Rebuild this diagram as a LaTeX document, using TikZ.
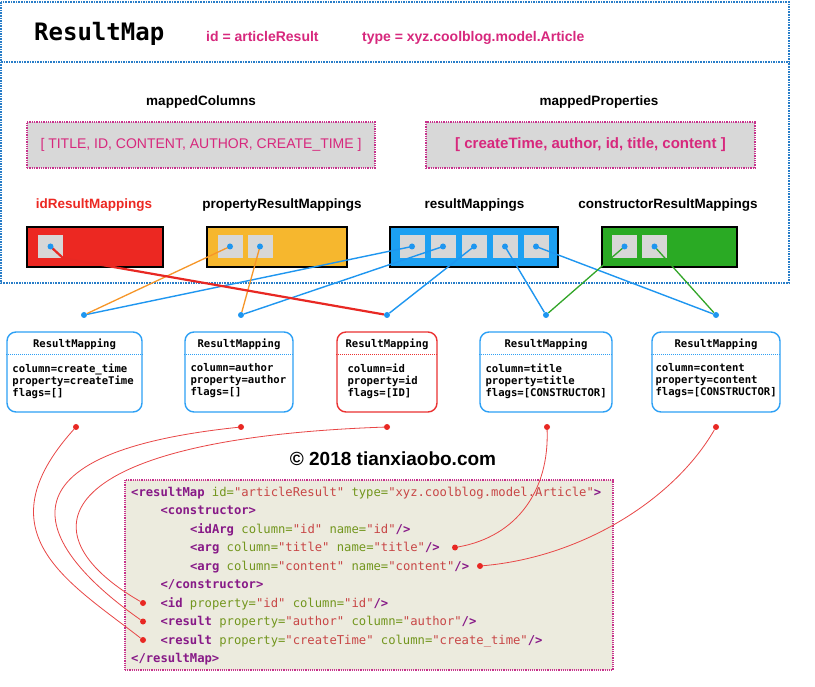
\documentclass[tikz,border=0pt]{standalone}
\usepackage{fontspec}
\setmainfont{Liberation Sans}
\setmonofont{DejaVu Sans Mono}

\definecolor{framebl}{RGB}{40,125,200}
\definecolor{pinktext}{RGB}{215,40,125}
\definecolor{boxgray}{RGB}{216,216,216}
\definecolor{cellgray}{RGB}{215,215,215}
\definecolor{idred}{RGB}{236,40,34}
\definecolor{propyellow}{RGB}{246,183,46}
\definecolor{resblue}{RGB}{28,160,242}
\definecolor{ctorgreen}{RGB}{42,170,36}
\definecolor{dotblue}{RGB}{30,150,240}
\definecolor{linkorange}{RGB}{246,150,40}
\definecolor{linkgreen}{RGB}{50,165,40}
\definecolor{linkred}{RGB}{232,40,35}
\definecolor{rmblue}{RGB}{45,160,245}
\definecolor{rmred}{RGB}{235,50,50}
\definecolor{curvered}{RGB}{232,70,70}
\definecolor{codebg}{RGB}{236,235,222}
\definecolor{codeframe}{RGB}{200,50,140}
\definecolor{xmltag}{RGB}{135,25,135}
\definecolor{xmlattr}{RGB}{115,150,30}
\definecolor{xmlval}{RGB}{200,70,70}

\newcommand{\xtag}[1]{\textcolor{xmltag}{\bfseries #1}}
\newcommand{\xatt}[1]{\textcolor{xmlattr}{#1}}
\newcommand{\xval}[1]{\textcolor{xmlval}{#1}}

\tikzset{
  mapframe/.style={draw=framebl, line width=1.6pt, densely dotted},
  attrtext/.style={text=pinktext, font=\bfseries\fontsize{14}{16}\selectfont, inner sep=0},
  fieldname/.style={font=\bfseries\fontsize{13.5}{16}\selectfont, anchor=base, inner sep=0},
  listbox/.style={draw=codeframe, line width=1.3pt, densely dotted, fill=boxgray, text=pinktext, minimum height=46, inner sep=0},
  mapbox/.style={draw=black, line width=2.4pt, minimum height=40, inner sep=0},
  cell/.style={fill=cellgray, minimum width=25, minimum height=23, inner sep=0},
  bdot/.style={circle, fill=dotblue, inner sep=0, minimum size=6},
  rdot/.style={circle, fill=linkred, inner sep=0, minimum size=6},
  bluelink/.style={draw=dotblue, line width=1.4pt},
  orangelink/.style={draw=linkorange, line width=1.3pt},
  greenlink/.style={draw=linkgreen, line width=1.3pt},
  redlink/.style={draw=linkred, line width=2.2pt},
  rmbox/.style={draw=rmblue, line width=1.4pt, rounded corners=9pt, fill=white, minimum height=80, inner sep=0},
  rmtitle/.style={font=\ttfamily\bfseries\fontsize{10.6}{12}\selectfont, anchor=base, inner sep=0},
  rmtext/.style={font=\ttfamily\bfseries\fontsize{10.6}{12}\selectfont, align=left, anchor=north west, inner sep=0},
  rmsep/.style={draw=rmblue, densely dotted, line width=1pt},
  codebox/.style={draw=codeframe, line width=1.2pt, densely dotted, fill=codebg, minimum width=488, minimum height=190, inner sep=0},
  codeline/.style={font=\ttfamily\fontsize{12.2}{14}\selectfont, anchor=base west, inner sep=0},
  curve/.style={draw=curvered, line width=0.8pt}
}

\begin{document}
\begin{tikzpicture}[x=1pt,y=-1pt]
\useasboundingbox[fill=white] (0,0) rectangle (815,687);

% the ResultMap frame
\draw[mapframe] (1,2) rectangle (789,283);
\draw[mapframe] (1,62) -- (789,62);
\node[font=\ttfamily\bfseries\fontsize{24}{28}\selectfont, anchor=base west, inner sep=0] (maptitle) at (34,41) {ResultMap};
\node[attrtext, anchor=base west] (mapid) at (206,42) {id = articleResult};
\node[attrtext, anchor=base west] (maptype) at (362,42) {type = xyz.coolblog.model.Article};

% mapped columns / properties
\node[fieldname] (mcolname) at (201,106) {mappedColumns};
\node[fieldname] (mpropname) at (599,106) {mappedProperties};
\node[listbox, minimum width=348, font=\fontsize{14}{16}\selectfont] (mcols) at (201,145) {[ TITLE, ID, CONTENT, AUTHOR, CREATE\_TIME ]};
\node[listbox, minimum width=329, font=\bfseries\fontsize{15}{17}\selectfont] (mprops) at (590.5,145) {[ createTime, author, id, title, content ]};

% the four mapping lists
\node[fieldname, text=idred] (idname) at (94,209) {idResultMappings};
\node[fieldname] (propname) at (282,209) {propertyResultMappings};
\node[fieldname] (resname) at (474.5,209) {resultMappings};
\node[fieldname] (ctorname) at (668,209) {constructorResultMappings};

\node[mapbox, fill=idred, minimum width=136] (idbox) at (95,247) {};
\node[mapbox, fill=propyellow, minimum width=140] (propbox) at (277,247) {};
\node[mapbox, fill=resblue, minimum width=168] (resbox) at (474,247) {};
\node[mapbox, fill=ctorgreen, minimum width=135] (ctorbox) at (669.5,247) {};

\node[cell] (id1) at (50.5,246.5) {};
\node[cell] (prop1) at (230,246.5) {};
\node[cell] (prop2) at (260,246.5) {};
\node[cell] (res1) at (412,246.5) {};
\node[cell] (res2) at (443,246.5) {};
\node[cell] (res3) at (474,246.5) {};
\node[cell] (res4) at (505,246.5) {};
\node[cell] (res5) at (536,246.5) {};
\node[cell] (ctor1) at (624.5,246.5) {};
\node[cell] (ctor2) at (654.5,246.5) {};

\node[bdot] (m1) at (84,315) {};
\node[bdot] (m2) at (241,315) {};
\node[bdot] (m3) at (387,315) {};
\node[bdot] (m4) at (546,315) {};
\node[bdot] (m5) at (716,315) {};

\draw[bluelink] (res1.center) -- (m1);
\draw[bluelink] (res2.center) -- (m2);
\draw[bluelink] (res3.center) -- (m3);
\draw[bluelink] (res4.center) -- (m4);
\draw[bluelink] (res5.center) -- (m5);
\draw[orangelink] (prop1.center) -- (m1);
\draw[orangelink] (prop2.center) -- (m2);
\draw[greenlink] (ctor1.center) -- (m4);
\draw[greenlink] (ctor2.center) -- (m5);
\draw[redlink] (id1.center) -- (id1.south east) -- (m3);

\foreach \c in {id1,prop1,prop2,res1,res2,res3,res4,res5,ctor1,ctor2}
  \node[bdot] at (\c.center) {};

% the ResultMapping objects
\node[rmbox, minimum width=135] (rm1) at (74.5,372) {};
\node[rmtitle] (rm1t) at ([yshift=-16]rm1.north) {ResultMapping};
\draw[rmsep] ([yshift=-23]rm1.north west) -- ([yshift=-23]rm1.north east);
\node[rmtext] (rm1b) at ([xshift=6,yshift=-32]rm1.north west) {column=create\_time\\property=createTime\\flags=[]};

\node[rmbox, minimum width=108] (rm2) at (239,372) {};
\node[rmtitle] (rm2t) at ([yshift=-16]rm2.north) {ResultMapping};
\draw[rmsep] ([yshift=-23]rm2.north west) -- ([yshift=-23]rm2.north east);
\node[rmtext] (rm2b) at ([xshift=6,yshift=-32]rm2.north west) {column=author\\property=author\\flags=[]};

\node[rmbox, draw=rmred, minimum width=100] (rm3) at (387,372) {};
\node[rmtitle] (rm3t) at ([yshift=-16]rm3.north) {ResultMapping};
\draw[rmsep, draw=rmred] ([yshift=-23]rm3.north west) -- ([yshift=-23]rm3.north east);
\node[rmtext] (rm3b) at ([xshift=11,yshift=-32]rm3.north west) {column=id\\property=id\\flags=[ID]};

\node[rmbox, minimum width=132] (rm4) at (546,372) {};
\node[rmtitle] (rm4t) at ([yshift=-16]rm4.north) {ResultMapping};
\draw[rmsep] ([yshift=-23]rm4.north west) -- ([yshift=-23]rm4.north east);
\node[rmtext] (rm4b) at ([xshift=6,yshift=-32]rm4.north west) {column=title\\property=title\\flags=[CONSTRUCTOR]};

\node[rmbox, minimum width=128] (rm5) at (716,372) {};
\node[rmtitle] (rm5t) at ([yshift=-16]rm5.north) {ResultMapping};
\draw[rmsep] ([yshift=-23]rm5.north west) -- ([yshift=-23]rm5.north east);
\node[rmtext] (rm5b) at ([xshift=4,yshift=-32]rm5.north west) {column=content\\property=content\\flags=[CONSTRUCTOR]};

\node[rdot] (r1) at (76,427) {};
\node[rdot] (r2) at (241,427) {};
\node[rdot] (r3) at (387,427) {};
\node[rdot] (r4) at (547,427) {};
\node[rdot] (r5) at (716,427) {};

\node[font=\bfseries\fontsize{19}{22}\selectfont, anchor=base, inner sep=0] (copy) at (393,465) {© 2018 tianxiaobo.com};

% the xml
\node[codebox] (code) at (369,575) {};
\node[codeline] (cl1) at (131,496) {\xtag{<resultMap} \xatt{id=}\xval{"articleResult"} \xatt{type=}\xval{"xyz.coolblog.model.Article"}\xtag{>}};
\node[codeline] (cl2) at (160.4,514.5) {\xtag{<constructor>}};
\node[codeline] (cl3) at (189.8,533) {\xtag{<idArg} \xatt{column=}\xval{"id"} \xatt{name=}\xval{"id"}\xtag{/>}};
\node[codeline] (cl4) at (189.8,551.5) {\xtag{<arg} \xatt{column=}\xval{"title"} \xatt{name=}\xval{"title"}\xtag{/>}};
\node[codeline] (cl5) at (189.8,570) {\xtag{<arg} \xatt{column=}\xval{"content"} \xatt{name=}\xval{"content"}\xtag{/>}};
\node[codeline] (cl6) at (160.4,588.5) {\xtag{</constructor>}};
\node[codeline] (cl7) at (160.4,607) {\xtag{<id} \xatt{property=}\xval{"id"} \xatt{column=}\xval{"id"}\xtag{/>}};
\node[codeline] (cl8) at (160.4,625.5) {\xtag{<result} \xatt{property=}\xval{"author"} \xatt{column=}\xval{"author"}\xtag{/>}};
\node[codeline] (cl9) at (160.4,644) {\xtag{<result} \xatt{property=}\xval{"createTime"} \xatt{column=}\xval{"create\_time"}\xtag{/>}};
\node[codeline] (cl10) at (131,662.5) {\xtag{</resultMap>}};

\node[rdot] (cid) at (143,603) {};
\node[rdot] (cauthor) at (143,621.5) {};
\node[rdot] (ctime) at (143,640) {};
\node[rdot] (ctitle) at (455,547.5) {};
\node[rdot] (ccontent) at (480,566) {};

\draw[curve] (r1) to[out=228, in=142, out distance=140, in distance=90] (ctime);
\draw[curve] (r2) to[out=186, in=145, out distance=260, in distance=120] (cauthor);
\draw[curve] (r3) to[out=182, in=150, out distance=330, in distance=140] (cid);
\draw[curve] (r4) to[out=-88, in=10, out distance=60, in distance=60] (ctitle);
\draw[curve] (r5) to[out=240, in=5, out distance=80, in distance=100] (ccontent);
\end{tikzpicture}
\end{document}
